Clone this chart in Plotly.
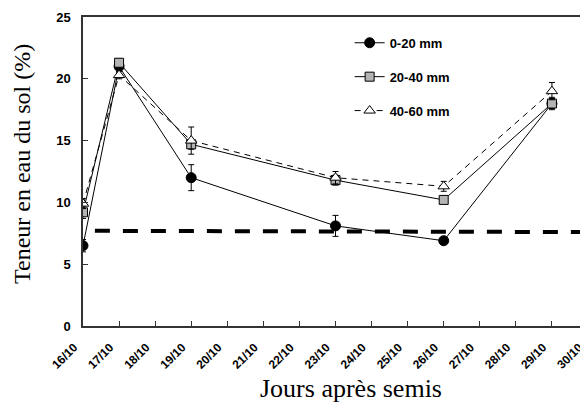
import plotly.graph_objects as go

# Data
days = [16, 17, 19, 23, 26, 29]
tick_vals = list(range(16, 31))
tick_text = [f"{d}/10" for d in tick_vals]

s1_name = "0-20 mm"
s1 = [6.5, 21.0, 12.0, 8.1, 6.9, 18.0]
s1_err = [0.5, 0.3, 1.05, 0.85, 0.2, 0.4]

s2_name = "20-40 mm"
s2 = [9.2, 21.3, 14.7, 11.8, 10.2, 18.0]
s2_err = [0.5, 0.3, 0.4, 0.4, 0.2, 0.5]

s3_name = "40-60 mm"
s3 = [9.9, 20.3, 15.0, 12.0, 11.3, 19.0]
s3_err = [0.4, 0.3, 1.1, 0.5, 0.4, 0.7]

thr_x = [16.33, 30]
thr_y = [7.7, 7.6]

fig = go.Figure()

fig.add_trace(go.Scatter(
    x=thr_x, y=thr_y, mode="lines", showlegend=False,
    line=dict(color="black", width=4, dash="15px,13px"), hoverinfo="skip"))

err_style = dict(type="data", visible=True, color="black", thickness=1, width=3)

fig.add_trace(go.Scatter(
    x=days, y=s1, name=s1_name, mode="lines+markers", legendgroup="a",
    line=dict(color="black", width=1),
    marker=dict(symbol="circle", size=10, color="black", line=dict(color="black", width=1)),
    error_y=dict(array=s1_err, **err_style)))

fig.add_trace(go.Scatter(
    x=days, y=s2, name=s2_name, mode="lines+markers", legendgroup="b",
    line=dict(color="black", width=1),
    marker=dict(symbol="square", size=9, color="#b4b4b4", line=dict(color="black", width=1)),
    error_y=dict(array=s2_err, **err_style)))

fig.add_trace(go.Scatter(
    x=days, y=s3, name=s3_name, mode="lines+markers", legendgroup="c",
    line=dict(color="black", width=1, dash="6px,5px"),
    marker=dict(symbol="triangle-up", size=10, color="white", line=dict(color="black", width=1)),
    error_y=dict(array=s3_err, **err_style)))

fig.update_layout(
    width=588, height=407,
    margin=dict(l=75, r=8, t=9, b=89, autoexpand=False),
    paper_bgcolor="white", plot_bgcolor="white",
    showlegend=True,
    legend=dict(x=0.528, y=0.965, xanchor="left", yanchor="top",
                bgcolor="rgba(0,0,0,0)", tracegroupgap=14,
                font=dict(family="Liberation Sans", size=13, color="black", weight="bold"),
                traceorder="grouped"),
    annotations=[
        dict(text="Jours après semis", x=(351 - 83) / 505, xref="paper",
             y=-(388 - 326) / 309, yref="paper", showarrow=False,
             font=dict(family="Liberation Serif", size=26, color="black"),
             xanchor="center", yanchor="middle"),
        dict(text="Teneur en eau du sol (%)", x=-(83 - 22) / 505, xref="paper",
             y=(326 - 164) / 309, yref="paper", showarrow=False, textangle=-90,
             font=dict(family="Liberation Serif", size=24, color="black"),
             xanchor="center", yanchor="middle"),
    ],
)

fig.update_xaxes(
    range=[16, 30], tickmode="array", tickvals=tick_vals, ticktext=tick_text,
    tickangle=-45, ticks="inside", ticklen=5, tickcolor="#333", tickwidth=1.2,
    ticklabelshift=-9, ticklabelstandoff=8,
    showline=True, linecolor="#333", linewidth=1.5, mirror=True,
    showgrid=False, zeroline=False, automargin=False,
    tickfont=dict(family="Liberation Sans", size=12, color="black", weight="bold"))

fig.update_yaxes(
    range=[0, 25], tickvals=[0, 5, 10, 15, 20, 25],
    ticks="inside", ticklen=5, tickcolor="#333", tickwidth=1.2,
    ticklabelstandoff=8,
    showline=True, linecolor="#333", linewidth=1.5,
    showgrid=False, zeroline=False, automargin=False,
    tickfont=dict(family="Liberation Sans", size=13, color="black", weight="bold"))

fig.write_html("out.html")
